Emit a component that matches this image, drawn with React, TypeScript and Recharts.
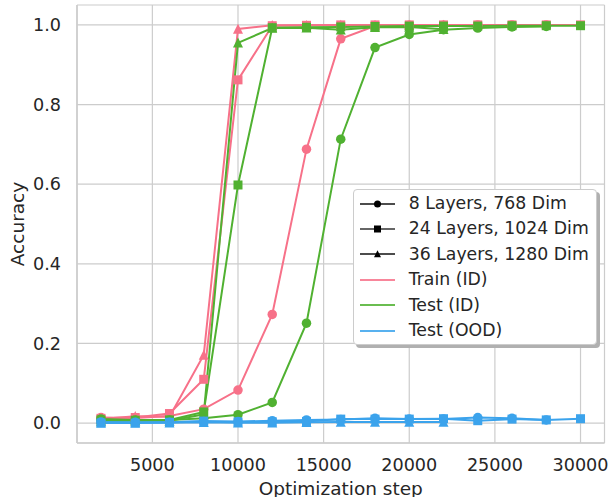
import React from 'react';
import { LineChart, Line, XAxis, YAxis, CartesianGrid, Legend, Label } from 'recharts';

const FONT = '"DejaVu Sans", sans-serif';
const TEXT = '#262626';
const GRID = '#cccccc';

const PINK = '#f77189';
const GREEN = '#50b131';
const BLUE = '#3ba3ec';

const steps = [2000, 4000, 6000, 8000, 10000, 12000, 14000, 16000, 18000, 20000, 22000, 24000, 26000, 28000, 30000];
const xTicks = [5000, 10000, 15000, 20000, 25000, 30000];
const yTicks = [0, 0.2, 0.4, 0.6, 0.8, 1.0];

// 8 Layers, 768 Dim (circles) — runs to 28000
const train8 = [0.014, 0.013, 0.018, 0.035, 0.083, 0.273, 0.688, 0.965, 0.997, 0.999, 0.999, 1.0, 1.0, 1.0];
const test8 = [0.01, 0.008, 0.008, 0.012, 0.021, 0.052, 0.251, 0.713, 0.943, 0.976, 0.988, 0.992, 0.995, 0.996];
const ood8 = [0.003, 0.002, 0.002, 0.004, 0.004, 0.006, 0.008, 0.009, 0.012, 0.01, 0.01, 0.014, 0.012, 0.008];

// 24 Layers, 1024 Dim (squares) — runs to 30000
const train24 = [0.012, 0.014, 0.024, 0.11, 0.862, 0.998, 0.999, 1.0, 1.0, 1.0, 1.0, 1.0, 1.0, 1.0, 1.0];
const test24 = [0.008, 0.007, 0.008, 0.028, 0.598, 0.993, 0.994, 0.995, 0.996, 0.997, 0.997, 0.997, 0.998, 0.998, 0.998];
const ood24 = [0.0, 0.0, 0.002, 0.005, 0.003, 0.003, 0.004, 0.01, 0.01, 0.01, 0.011, 0.006, 0.01, 0.008, 0.011];

// 36 Layers, 1280 Dim (triangles) — runs to 22000
const train36 = [0.01, 0.017, 0.016, 0.171, 0.99, 0.999, 0.999, 1.0, 1.0, 1.0, 1.0];
const test36 = [0.005, 0.006, 0.006, 0.022, 0.955, 0.992, 0.993, 0.988, 0.994, 0.995, 0.989];
const ood36 = [0.001, 0.001, 0.001, 0.002, 0.001, 0.001, 0.002, 0.003, 0.003, 0.003, 0.003];

const seriesList = [
  { key: 'train8', values: train8, color: PINK, shape: 'circle' },
  { key: 'train24', values: train24, color: PINK, shape: 'square' },
  { key: 'train36', values: train36, color: PINK, shape: 'triangle' },
  { key: 'test8', values: test8, color: GREEN, shape: 'circle' },
  { key: 'test24', values: test24, color: GREEN, shape: 'square' },
  { key: 'test36', values: test36, color: GREEN, shape: 'triangle' },
  { key: 'ood8', values: ood8, color: BLUE, shape: 'circle' },
  { key: 'ood24', values: ood24, color: BLUE, shape: 'square' },
  { key: 'ood36', values: ood36, color: BLUE, shape: 'triangle' },
];

const rows = steps.map((s, i) => {
  const r: any = { step: s };
  seriesList.forEach((sr) => {
    r[sr.key] = i < sr.values.length ? sr.values[i] : null;
  });
  return r;
});

const legendItems = [
  { label: '8 Layers, 768 Dim', color: '#111111', shape: 'circle' },
  { label: '24 Layers, 1024 Dim', color: '#333333', shape: 'square' },
  { label: '36 Layers, 1280 Dim', color: '#111111', shape: 'triangle' },
  { label: 'Train (ID)', color: PINK, shape: 'none' },
  { label: 'Test (ID)', color: GREEN, shape: 'none' },
  { label: 'Test (OOD)', color: BLUE, shape: 'none' },
];

function markerShape(shape: string, cx: number, cy: number, s: number, color: string, key?: any) {
  if (shape === 'circle') return <circle key={key} cx={cx} cy={cy} r={s / 2} fill={color} />;
  if (shape === 'square')
    return <rect key={key} x={cx - s / 2} y={cy - s / 2} width={s} height={s} fill={color} />;
  if (shape === 'triangle') {
    const h = s / 2;
    return (
      <polygon
        key={key}
        points={`${cx},${cy - h * 1.05} ${cx - h},${cy + h * 0.95} ${cx + h},${cy + h * 0.95}`}
        fill={color}
      />
    );
  }
  return null;
}

const makeDot = (shape: string, color: string) => (props: any) => {
  const { cx, cy, index, value } = props;
  if (cx == null || cy == null || value == null || Number.isNaN(cy)) return <g key={`e${index}`} />;
  const size = shape === 'circle' ? 9.5 : shape === 'square' ? 9 : 10;
  return markerShape(shape, cx, cy, size, color, `d${index}`);
};

const LegendBox = () => (
  <div
    style={{
      width: 244,
      height: 156,
      boxSizing: 'border-box',
      background: '#ffffff',
      border: '1px solid #cccccc',
      borderRadius: 4,
      boxShadow: '3px 3px 0 #b0b0b0',
      fontFamily: FONT,
      fontSize: 17.3,
      color: TEXT,
      position: 'relative',
    }}
  >
    {legendItems.map((it, i) => (
      <div
        key={i}
        style={{
          position: 'absolute',
          left: 6,
          top: 13.4 + i * 25.4 - 12.7,
          height: 25.4,
          display: 'flex',
          alignItems: 'center',
        }}
      >
        <svg width={35} height={14} style={{ display: 'block' }}>
          <line
            x1={0}
            x2={35}
            y1={7}
            y2={7}
            stroke={it.color}
            strokeWidth={it.shape === 'none' ? 2 : 1.5}
            strokeOpacity={it.shape === 'none' ? 0.85 : 1}
          />
          {markerShape(it.shape, 17.5, 7, 7, '#000000')}
        </svg>
        <span style={{ marginLeft: 14, whiteSpace: 'nowrap', lineHeight: 1 }}>{it.label}</span>
      </div>
    ))}
  </div>
);

const YLabel = (props: any) => {
  const vb = props.viewBox || {};
  const cy = (vb.y ?? 0) + (vb.height ?? 0) / 2;
  return (
    <text
      x={17}
      y={cy}
      transform={`rotate(-90, 17, ${cy})`}
      textAnchor="middle"
      dominantBaseline="central"
      fill={TEXT}
      fontFamily={FONT}
      fontSize={18.5}
    >
      Accuracy
    </text>
  );
};

const XLabel = (props: any) => {
  const vb = props.viewBox || {};
  const cx = (vb.x ?? 0) + (vb.width ?? 0) / 2;
  return (
    <text x={cx} y={494.5} textAnchor="middle" fill={TEXT} fontFamily={FONT} fontSize={18.5}>
      Optimization step
    </text>
  );
};

export default function App() {
  return (
    <div style={{ position: 'absolute', left: 0, top: 0, width: 610, height: 497, background: '#fff' }}>
      <LineChart
        width={610}
        height={497}
        data={rows}
        margin={{ top: 5, right: 5.5, left: 0, bottom: 0 }}
      >
        <CartesianGrid stroke={GRID} strokeWidth={1.2} />
        <XAxis
          dataKey="step"
          type="number"
          domain={[600, 31400]}
          ticks={xTicks}
          allowDataOverflow
          height={54}
          tickLine={false}
          tickSize={0}
          tickMargin={15.5}
          axisLine={{ stroke: GRID, strokeWidth: 1.5 }}
          tick={{ fill: TEXT, fontFamily: FONT, fontSize: 17.6 }}
        >
          <Label content={XLabel} />
        </XAxis>
        <YAxis
          type="number"
          domain={[-0.05, 1.05]}
          ticks={yTicks}
          allowDataOverflow
          width={77}
          tickLine={false}
          tickSize={0}
          tickMargin={16}
          axisLine={{ stroke: GRID, strokeWidth: 1.5 }}
          tickFormatter={(v: number) => v.toFixed(1)}
          tick={{ fill: TEXT, fontFamily: FONT, fontSize: 17.6 }}
        >
          <Label content={YLabel} />
        </YAxis>
        {seriesList.map((sr) => (
          <Line
            key={sr.key}
            type="linear"
            dataKey={sr.key}
            stroke={sr.color}
            strokeWidth={2}
            dot={makeDot(sr.shape, sr.color)}
            activeDot={false}
            isAnimationActive={false}
            connectNulls={false}
          />
        ))}
        <Legend
          layout="vertical"
          align="center"
          verticalAlign="middle"
          wrapperStyle={{ position: 'absolute', left: 352.7, top: 189.3, width: 244, height: 156 }}
          content={LegendBox}
        />
      </LineChart>
    </div>
  );
}
